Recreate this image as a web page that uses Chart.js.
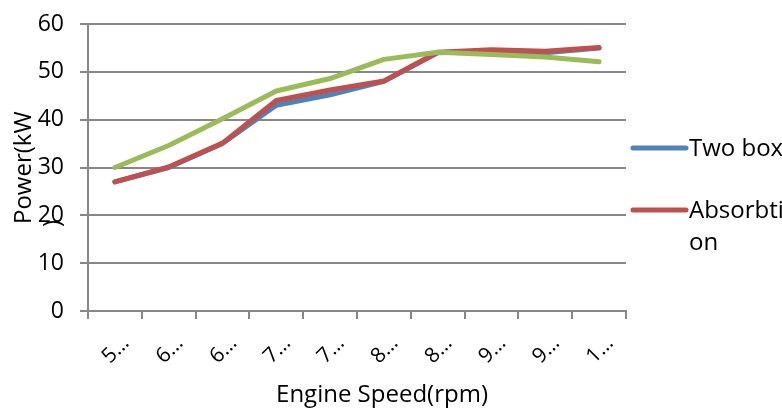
<!DOCTYPE html>
<html>
<head>
<meta charset="utf-8">
<script src="https://cdn.jsdelivr.net/npm/chart.js@4/dist/chart.umd.min.js"></script>
<style>
  html, body { margin: 0; padding: 0; background: #fff; }
  #wrap { width: 782px; height: 410px; position: relative; }
</style>
</head>
<body>
<div id="wrap"><canvas id="c"></canvas></div>
<script>
// Engine speed categories (labels as they appear, truncated)
const speedLabels = ['5…', '6…', '6…', '7…', '7…', '8…', '8…', '9…', '9…', '1…'];

// Power output in kW for each method
const twoBox     = [27, 30, 35, 43, 45.2, 48, 54, 54.3, 54, 55];
const absorbtion = [27, 30.1, 35.1, 44, 46.2, 48.1, 54.1, 54.6, 54.3, 55.1];
const series3    = [30, 34.6, 40.2, 46, 48.6, 52.6, 54.1, 53.6, 53.1, 52.1];

// Value axis ticks
const yMin = 0, yMax = 60, yStep = 10;

// Legend text (second entry wraps onto two lines)
const legendText = [['Two box'], ['Absorbti', 'on']];

const FONT = "'Open Sans', 'DejaVu Sans', sans-serif";
const GRID = '#878787';
const COLORS = ['#4F81BD', '#C0504D', '#9BBB59'];

const titlesAndLegend = {
  id: 'titlesAndLegend',
  afterDraw(chart) {
    const ctx = chart.ctx;
    const area = chart.chartArea;
    ctx.save();
    ctx.fillStyle = '#000';
    ctx.font = '24px ' + FONT;

    // horizontal axis title
    ctx.textAlign = 'center';
    ctx.textBaseline = 'alphabetic';
    ctx.fillText('Engine Speed(rpm)', 382, 402);

    // vertical axis title, wrapped onto two lines
    ctx.save();
    ctx.translate(31, 224);
    ctx.rotate(-Math.PI / 2);
    ctx.textAlign = 'left';
    ctx.fillText('Power(kW', 0, 0);
    ctx.fillText(')', -3, 29);
    ctx.restore();

    // legend (two entries shown)
    const rows = [148, 210];
    ctx.textAlign = 'left';
    legendText.forEach((lines, i) => {
      const y = rows[i];
      ctx.strokeStyle = chart.data.datasets[i].borderColor;
      ctx.lineWidth = 5;
      ctx.lineCap = 'round';
      ctx.beginPath();
      ctx.moveTo(area.right + 7, y);
      ctx.lineTo(area.right + 60, y);
      ctx.stroke();
      lines.forEach((t, k) => ctx.fillText(t, area.right + 63, y + 8 + k * 32));
    });
    ctx.restore();
  }
};

new Chart(document.getElementById('c'), {
  type: 'line',
  data: {
    labels: speedLabels,
    datasets: [
      { label: 'Two box', data: twoBox, borderColor: COLORS[0], order: 2 },
      { label: 'Absorbtion', data: absorbtion, borderColor: COLORS[1], order: 1 },
      { label: 'Series3', data: series3, borderColor: COLORS[2], order: 0 }
    ].map(d => Object.assign(d, {
      borderWidth: 5,
      borderCapStyle: 'round',
      borderJoinStyle: 'round',
      pointRadius: 0,
      pointHoverRadius: 0,
      tension: 0,
      fill: false
    }))
  },
  options: {
    responsive: true,
    maintainAspectRatio: false,
    animation: false,
    events: [],
    layout: { padding: { left: 0, right: 156, top: 24, bottom: 0 } },
    plugins: {
      legend: { display: false },
      tooltip: { enabled: false },
      title: { display: false }
    },
    scales: {
      x: {
        type: 'category',
        offset: true,
        grid: {
          display: true,
          drawOnChartArea: false,
          drawTicks: true,
          tickLength: 8,
          offset: true,
          color: GRID,
          lineWidth: 2
        },
        border: { display: true, color: GRID, width: 2 },
        ticks: {
          autoSkip: false,
          maxRotation: 45,
          minRotation: 45,
          padding: 12,
          labelOffset: 11,
          color: '#000',
          font: { family: FONT, size: 21 }
        },
        afterFit(scale) { scale.height = 99; }
      },
      y: {
        min: yMin,
        max: yMax,
        ticks: {
          stepSize: yStep,
          padding: 16,
          color: '#000',
          font: { family: FONT, size: 23 }
        },
        grid: { color: GRID, lineWidth: 2, tickLength: 8 },
        border: { display: true, color: GRID, width: 2 },
        afterFit(scale) {
          scale.width = 88;
          scale.paddingTop = 0;
          scale.paddingBottom = 0;
        }
      }
    }
  },
  plugins: [titlesAndLegend]
});
</script>
</body>
</html>
